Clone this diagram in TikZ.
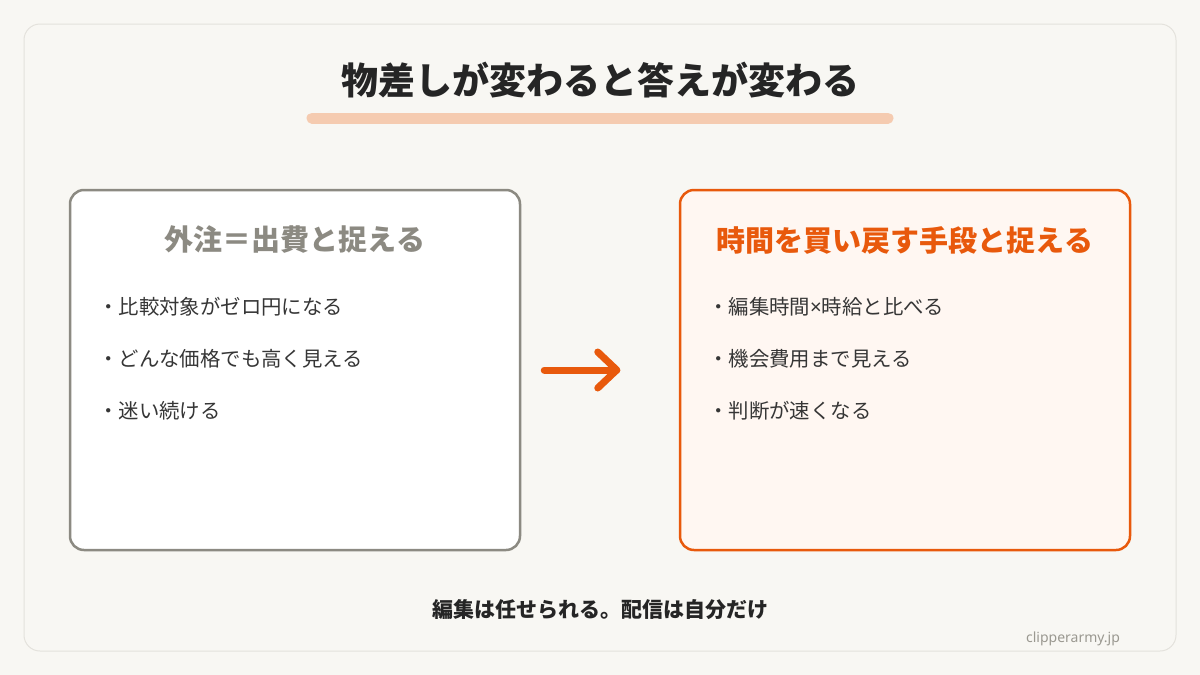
\documentclass[tikz,border=0pt]{standalone}
\usepackage{fontspec}
\usepackage{tikz}
\usetikzlibrary{positioning}
\setmainfont{Noto Sans CJK JP}
\setsansfont{Noto Sans}
\definecolor{paper}{HTML}{F8F7F3}
\definecolor{frameline}{HTML}{E4E2DC}
\definecolor{ink}{HTML}{252525}
\definecolor{bodyink}{HTML}{363636}
\definecolor{peach}{HTML}{F5CBB0}
\definecolor{stone}{HTML}{8C8A82}
\definecolor{rust}{HTML}{E8590C}
\definecolor{blush}{HTML}{FFF7F2}
\definecolor{footgray}{HTML}{9A9890}

\begin{document}
\begin{tikzpicture}[x=1pt,y=-1pt,
    card/.style={draw,line width=2.5pt,rounded corners=14pt,minimum width=450,minimum height=360},
    head/.style={font=\fontsize{29}{34}\selectfont\bfseries},
    item/.style={anchor=west,inner sep=0pt,text=bodyink,font=\fontsize{20.4}{24}\selectfont}]
  \useasboundingbox[fill=paper] (0,0) rectangle (1200,675);
  \draw[frameline,line width=1pt,rounded corners=16pt] (24,24) rectangle (1176,651);

  % title
  \node[text=ink,font=\fontsize{37}{44}\selectfont\bfseries] (title) at (600,80) {物差しが変わると答えが変わる};
  \draw[peach,line width=11pt,line cap=round] (312,118) -- (888,118);

  % left card
  \node[card,draw=stone,fill=white] (lbox) at (295,370) {};
  \node[head,text=stone] (lhead) at (295,240) {外注＝出費と捉える};
  \node[item] (l1) at (98,307) {・比較対象がゼロ円になる};
  \node[item] (l2) at (98,359) {・どんな価格でも高く見える};
  \node[item] (l3) at (98,411) {・迷い続ける};

  % right card
  \node[card,draw=rust,fill=blush] (rbox) at (905,370) {};
  \node[head,text=rust] (rhead) at (905,240) {時間を買い戻す手段と捉える};
  \node[item] (r1) at (708,307) {・編集時間{\sffamily ×}時給と比べる};
  \node[item] (r2) at (708,359) {・機会費用まで見える};
  \node[item] (r3) at (708,411) {・判断が速くなる};

  % arrow
  \coordinate (a0) at ([xshift=23]lbox.east);
  \coordinate (a1) at ([xshift=-62]rbox.west);
  \draw[rust,line width=7pt,line cap=round,line join=round] (a0) -- (a1);
  \draw[rust,line width=7pt,line cap=round,line join=round] ([shift={(-19,-18)}]a1) -- (a1) -- ([shift={(-19,18)}]a1);

  % bottom
  \node[text=ink,font=\fontsize{21}{25}\selectfont\bfseries] (note) at (600,610) {編集は任せられる。配信は自分だけ};
  \node[text=footgray,font=\sffamily\fontsize{14}{17}\selectfont] (site) at (1073,639) {clipperarmy.jp};
\end{tikzpicture}
\end{document}
